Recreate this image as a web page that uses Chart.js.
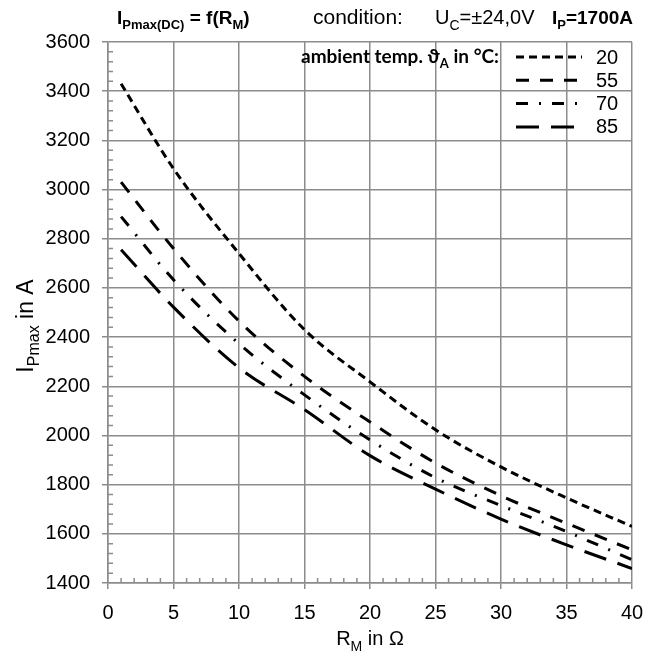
<!DOCTYPE html>
<html>
<head>
<meta charset="utf-8">
<script src="https://cdn.jsdelivr.net/npm/chart.js@4.4.0/dist/chart.umd.min.js"></script>
<style>
html, body { margin: 0; padding: 0; background: #fff; }
#wrap { width: 660px; height: 654px; position: relative; }
</style>
</head>
<body>
<div id="wrap"><canvas id="myChart"></canvas></div>
<script>
// R_M in Ohm
var rValues = [1, 5, 10, 15, 20, 25, 30, 35, 40];
// I_Pmax in A, one list per ambient temperature
var temp20 = [3430, 3085, 2740, 2430, 2218, 2023, 1872, 1746, 1630];
var temp55 = [3030, 2760, 2465, 2240, 2055, 1888, 1755, 1643, 1535];
var temp70 = [2890, 2633, 2373, 2165, 1982, 1828, 1715, 1609, 1495];
var temp85 = [2755, 2522, 2275, 2105, 1918, 1782, 1660, 1555, 1459];
var seriesLabels = ["20", "55", "70", "85"];

// Axis ticks
var xTicks = [0, 5, 10, 15, 20, 25, 30, 35, 40];
var yTicks = [1400, 1600, 1800, 2000, 2200, 2400, 2600, 2800, 3000, 3200, 3400, 3600];

var gridColor = "#8c8c8c";
var fontFamily = "'Liberation Sans', Arial, sans-serif";
Chart.defaults.font.family = fontFamily;
Chart.defaults.color = "#000";

function toPoints(values) {
    return rValues.map(function(r, i) {
        return { x: r, y: values[i] };
    });
}

function makeSet(label, values, dash) {
    return {
        label: label,
        data: toPoints(values),
        borderColor: "#000",
        backgroundColor: "#000",
        borderWidth: 3,
        borderDash: dash,
        pointRadius: 0,
        cubicInterpolationMode: "monotone",
        fill: false
    };
}

// Draws text with subscripts, returns x after the text
function drawRich(ctx, parts, x, y, size, family) {
    parts.forEach(function(p) {
        var s = p.sub ? Math.round(size * 0.68) : size;
        ctx.font = (p.bold ? "bold " : "") + s + "px " + family;
        ctx.fillText(p.t, x, y + (p.sub ? size * 0.28 : 0));
        x += ctx.measureText(p.t).width;
    });
    return x;
}
function richWidth(ctx, parts, size, family) {
    var w = 0;
    parts.forEach(function(p) {
        var s = p.sub ? Math.round(size * 0.68) : size;
        ctx.font = (p.bold ? "bold " : "") + s + "px " + family;
        w += ctx.measureText(p.t).width;
    });
    return w;
}

var decorPlugin = {
    id: "decor",
    beforeDatasetsDraw: function(chart) {
        var ctx = chart.ctx;
        var xs = chart.scales.x, ys = chart.scales.y;
        var area = chart.chartArea;
        ctx.save();
        ctx.strokeStyle = gridColor;
        ctx.lineWidth = 1.5;
        ctx.beginPath();
        // minor ticks, inside the plot
        for (var v = 1; v < 40; v++) {
            if (v % 5 === 0) continue;
            var px = xs.getPixelForValue(v);
            ctx.moveTo(px, area.bottom);
            ctx.lineTo(px, area.bottom - 5);
        }
        for (var w = 1440; w < 3600; w += 40) {
            if (w % 200 === 0) continue;
            var py = ys.getPixelForValue(w);
            ctx.moveTo(area.left, py);
            ctx.lineTo(area.left + 5, py);
        }
        ctx.stroke();
        ctx.restore();
    },
    afterDraw: function(chart) {
        var ctx = chart.ctx;
        var area = chart.chartArea;
        ctx.save();
        ctx.fillStyle = "#000";
        ctx.textBaseline = "alphabetic";

        // title line
        drawRich(ctx, [
            { t: "I", bold: true }, { t: "Pmax(DC)", bold: true, sub: true },
            { t: " = f(R", bold: true }, { t: "M", bold: true, sub: true }, { t: ")", bold: true }
        ], 117, 24, 19, fontFamily);
        drawRich(ctx, [{ t: "condition:" }], 313, 24, 21, fontFamily);
        drawRich(ctx, [{ t: "U" }, { t: "C", sub: true }, { t: "=\u00B124,0V" }], 435, 24, 20, fontFamily);
        drawRich(ctx, [
            { t: "I", bold: true }, { t: "P", bold: true, sub: true }, { t: "=1700A", bold: true }
        ], 552, 24, 19, fontFamily);

        // x axis title
        var xt = [{ t: "R" }, { t: "M", sub: true }, { t: " in \u03A9" }];
        var xw = richWidth(ctx, xt, 20, fontFamily);
        drawRich(ctx, xt, (area.left + area.right) / 2 - xw / 2, 645, 20, fontFamily);

        // y axis title
        var yt = [{ t: "I" }, { t: "Pmax", sub: true }, { t: " in A" }];
        var yw = richWidth(ctx, yt, 23, fontFamily);
        ctx.save();
        ctx.translate(33, 326 + yw / 2);
        ctx.rotate(-Math.PI / 2);
        drawRich(ctx, yt, 0, 0, 23, fontFamily);
        ctx.restore();

        // legend
        var lineX0 = area.right - 116, lineX1 = area.right - 50;
        var labelX = area.right - 36;
        var rowY = area.top + 15;
        var lf = "'Lato', 'Open Sans', sans-serif";
        var lt = [{ t: "ambient temp. \u03D1", bold: true }, { t: "A", bold: true, sub: true }, { t: " in \u00B0C:", bold: true }];
        var lw = richWidth(ctx, lt, 19, lf);
        drawRich(ctx, lt, area.right - 133 - lw, rowY + 6, 19, lf);

        chart.data.datasets.forEach(function(ds, i) {
            var y = rowY + i * 23.3;
            ctx.save();
            ctx.strokeStyle = "#000";
            ctx.lineWidth = 3;
            ctx.setLineDash(ds.borderDash);
            ctx.beginPath();
            ctx.moveTo(lineX0, y);
            ctx.lineTo(lineX1, y);
            ctx.stroke();
            ctx.restore();
            ctx.font = "20px " + fontFamily;
            ctx.textBaseline = "middle";
            ctx.fillText(ds.label, labelX, y + 1);
        });
        ctx.restore();
    }
};

var ctx = document.getElementById("myChart");
var myChart = new Chart(ctx, {
    type: "line",
    data: {
        datasets: [
            makeSet(seriesLabels[0], temp20, [8, 5]),
            makeSet(seriesLabels[1], temp55, [13, 11]),
            makeSet(seriesLabels[2], temp70, [12, 11, 2, 11]),
            makeSet(seriesLabels[3], temp85, [23, 12])
        ]
    },
    options: {
        responsive: true,
        maintainAspectRatio: false,
        animation: false,
        layout: { padding: { top: 42, right: 28, left: 0, bottom: 0 } },
        plugins: {
            legend: { display: false },
            tooltip: { enabled: false }
        },
        scales: {
            x: {
                type: "linear",
                min: 0,
                max: 40,
                afterBuildTicks: function(scale) {
                    scale.ticks = xTicks.map(function(v) { return { value: v }; });
                },
                afterFit: function(scale) { scale.height = 71; },
                grid: { color: gridColor, lineWidth: 1.5, tickLength: 6, tickColor: gridColor },
                border: { color: gridColor, width: 1.5 },
                ticks: {
                    font: { size: 20 }, color: "#000", padding: 12, maxRotation: 0, autoSkip: false,
                    callback: function(value) { return String(value); }
                }
            },
            y: {
                type: "linear",
                min: 1400,
                max: 3600,
                afterBuildTicks: function(scale) {
                    scale.ticks = yTicks.map(function(v) { return { value: v }; });
                },
                afterFit: function(scale) { scale.width = 108; },
                grid: { color: gridColor, lineWidth: 1.5, tickLength: 6, tickColor: gridColor },
                border: { color: gridColor, width: 1.5 },
                ticks: {
                    font: { size: 20 }, color: "#000", padding: 12, autoSkip: false,
                    callback: function(value) { return String(value); }
                }
            }
        }
    },
    plugins: [decorPlugin]
});
</script>
</body>
</html>
